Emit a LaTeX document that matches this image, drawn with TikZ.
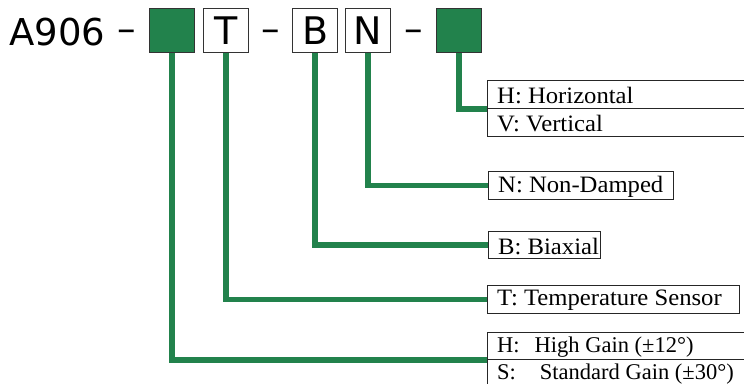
\documentclass[tikz,border=0pt]{standalone}
\usepackage{fontspec}
\newfontfamily\topfont{DejaVu Sans}
\newfontfamily\labfont[FakeStretch=1.05]{Liberation Serif}
\newfontfamily\gainfont{Liberation Serif}
\definecolor{codegreen}{RGB}{34,130,76}
\begin{document}
\begin{tikzpicture}[x=1pt,y=-1pt,
  codebox/.style={draw=black!80, line width=1.3pt, minimum width=45pt, minimum height=44pt,
    inner sep=0pt, font=\topfont\fontsize{38}{40}\selectfont, anchor=north west},
  greenbox/.style={codebox, fill=codegreen},
  toptext/.style={inner sep=0pt, font=\topfont\fontsize{37}{40}\selectfont},
  labelbox/.style={draw=black!85, line width=1.2pt, anchor=north west, minimum height=28pt,
    minimum width=#1, inner sep=0pt},
  labeltext/.style={anchor=west, inner sep=0pt, xshift=10pt, yshift=-1pt,
    font=\labfont\fontsize{23.5}{25}\selectfont},
  gaintext/.style={labeltext, font=\gainfont\fontsize{22.5}{24}\selectfont},
  link/.style={draw=codegreen, line width=5.5pt, line join=miter}]
\useasboundingbox (0,0) rectangle (744,383);
\clip (0,0) rectangle (744,383);
% part number
\node[toptext, anchor=base west] (pn) at (9,45) {A906};
\node[toptext, anchor=base] (d1) at (127,41) {–};
\node[greenbox] (g1) at (149,8) {};
\node[codebox] (tb) at (203,8) {T};
\node[toptext, anchor=base] (d2) at (270.5,41) {–};
\node[codebox] (bb) at (292,8) {B};
\node[codebox] (nb) at (345,8) {N};
\node[toptext, anchor=base] (d3) at (413.5,41) {–};
\node[greenbox] (g2) at (436,8) {};
% label boxes
\node[labelbox=262pt] (hv1) at (487,80) {};
\node[labelbox=262pt] (hv2) at (487,108) {};
\node[labelbox=185pt] (nd) at (488,171) {};
\node[labelbox=112pt, minimum height=27pt] (bi) at (488,231) {};
\node[labelbox=252pt] (ts) at (487,285) {};
\node[labelbox=262pt, minimum height=27pt] (hs1) at (487,332) {};
\node[labelbox=262pt] (hs2) at (487,359) {};
% label texts
\node[labeltext] (hv1t) at (hv1.west) {H: Horizontal};
\node[labeltext] (hv2t) at (hv2.west) {V: Vertical};
\node[labeltext] (ndt) at (nd.west) {N: Non-Damped};
\node[labeltext] (bit) at (bi.west) {B: Biaxial};
\node[labeltext] (tst) at (ts.west) {T: Temperature Sensor};
\node[gaintext] (hs1t) at (hs1.west) {H:\hspace{15pt}High Gain (±12°)};
\node[gaintext, yshift=1pt] (hs2t) at (hs2.west) {S:\hspace{24pt}Standard Gain (±30°)};
% connectors
\draw[link] (g2.south) |- (hv1.south west);
\draw[link] (nb.south) |- (nd.west);
\draw[link] (bb.south) |- (bi.west);
\draw[link] (tb.south) |- (ts.west);
\draw[link] (g1.south) |- (hs1.south west);
\end{tikzpicture}
\end{document}
